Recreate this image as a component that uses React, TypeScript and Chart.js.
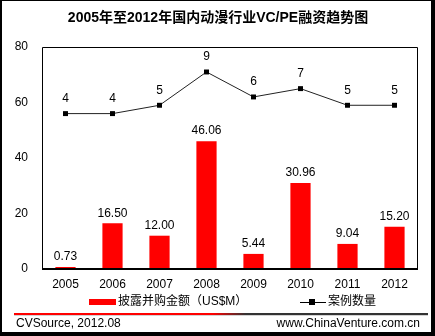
import React, { useEffect, useRef } from "react";
import { Chart, registerables } from "chart.js";

Chart.register(...registerables);

const years = ["2005", "2006", "2007", "2008", "2009", "2010", "2011", "2012"];
const amounts = [0.73, 16.5, 12.0, 46.06, 5.44, 30.96, 9.04, 15.2];
const amountLabels = ["0.73", "16.50", "12.00", "46.06", "5.44", "30.96", "9.04", "15.20"];
const dealCounts = [4, 4, 5, 9, 6, 7, 5, 5];
const yTicks = [0, 20, 40, 60, 80];

const titleText = "2005年至2012年国内动漫行业VC/PE融资趋势图";
const barLegend = "披露并购金额（US$M）";
const lineLegend = "案例数量";
const sourceLeft = "CVSource, 2012.08";
const sourceRight = "www.ChinaVenture.com.cn";

const FONT = "'Liberation Sans', Arial, 'Noto Sans CJK SC', sans-serif";
const CJK = "'Liberation Sans', 'Noto Sans CJK SC', sans-serif";

const decorPlugin = {
  id: "decor",
  afterDatasetsDraw(chart: any) {
    const ctx = chart.ctx;
    const { left, right, top, bottom } = chart.chartArea;
    ctx.save();
    // plot frame
    ctx.strokeStyle = "#000";
    ctx.lineWidth = 1;
    ctx.beginPath();
    ctx.moveTo(left + 0.5, bottom);
    ctx.lineTo(left + 0.5, top + 0.5);
    ctx.lineTo(right - 0.5, top + 0.5);
    ctx.lineTo(right - 0.5, bottom);
    ctx.stroke();
    ctx.lineWidth = 2;
    ctx.beginPath();
    ctx.moveTo(left, bottom);
    ctx.lineTo(right, bottom);
    ctx.stroke();

    // bar labels
    ctx.fillStyle = "#000";
    ctx.font = "12px " + FONT;
    ctx.textAlign = "center";
    ctx.textBaseline = "bottom";
    const barMeta = chart.getDatasetMeta(0);
    barMeta.data.forEach((el: any, i: number) => {
      ctx.fillText(amountLabels[i], el.x, el.y - 4);
    });
    const lineMeta = chart.getDatasetMeta(1);
    lineMeta.data.forEach((el: any, i: number) => {
      ctx.fillText(String(dealCounts[i]), el.x, el.y - 9);
    });

    // title
    ctx.font = "bold 14px " + CJK;
    ctx.textBaseline = "middle";
    ctx.fillText(titleText, 218, 18);

    // legend
    ctx.fillStyle = "#ff0000";
    ctx.fillRect(89, 299, 27, 6);
    ctx.fillStyle = "#000";
    ctx.textAlign = "left";
    ctx.font = "12px " + CJK;
    ctx.fillText(barLegend, 118, 302);
    ctx.strokeStyle = "#000";
    ctx.lineWidth = 1;
    ctx.beginPath();
    ctx.moveTo(300, 302.5);
    ctx.lineTo(326, 302.5);
    ctx.stroke();
    ctx.fillRect(309, 299, 6, 6);
    ctx.fillText(lineLegend, 328, 302);

    // footer rule
    const g = ctx.createLinearGradient(14, 0, 428, 0);
    g.addColorStop(0, "#ff0000");
    g.addColorStop(0.48, "#ff0000");
    g.addColorStop(0.56, "#333333");
    g.addColorStop(1, "#333333");
    ctx.fillStyle = g;
    ctx.fillRect(14, 313, 414, 2);
    ctx.fillStyle = "rgba(200,200,200,0.8)";
    ctx.fillRect(14, 315, 414, 1);

    ctx.fillStyle = "#000";
    ctx.font = "12px " + FONT;
    ctx.textAlign = "left";
    ctx.fillText(sourceLeft, 16, 324);
    ctx.textAlign = "right";
    ctx.fillText(sourceRight, 420, 324);

    // outer border
    ctx.fillStyle = "#000";
    ctx.fillRect(0, 0, 435, 1);
    ctx.fillRect(0, 0, 2, 336);
    ctx.fillRect(431, 0, 4, 336);
    ctx.fillRect(0, 332, 435, 4);
    ctx.restore();
  },
};

export default function App() {
  const ref = useRef<HTMLCanvasElement>(null);
  useEffect(() => {
    document.body.style.margin = "0";
    const chart = new Chart(ref.current!, {
      type: "bar",
      data: {
        labels: years,
        datasets: [
          {
            type: "bar",
            data: amounts,
            backgroundColor: "#ff0000",
            borderWidth: 0,
            barPercentage: 0.43,
            categoryPercentage: 1,
            yAxisID: "y",
            order: 2,
          },
          {
            type: "line",
            data: dealCounts,
            borderColor: "#222",
            borderWidth: 1,
            backgroundColor: "#000",
            pointStyle: "rect",
            pointRadius: 3.5,
            pointBorderWidth: 0,
            pointBackgroundColor: "#000",
            yAxisID: "y1",
            order: 1,
          } as any,
        ],
      },
      options: {
        responsive: false,
        animation: false,
        devicePixelRatio: 1,
        layout: { padding: { top: 47, right: 17, left: 0, bottom: 0 } },
        plugins: { legend: { display: false }, tooltip: { enabled: false }, title: { display: false } },
        scales: {
          x: {
            grid: { display: false, drawTicks: false },
            border: { display: false },
            ticks: { color: "#000", font: { family: FONT, size: 12 }, padding: 8, maxRotation: 0 },
            afterFit: (s: any) => { s.height = 67; },
          },
          y: {
            min: 0,
            max: 80,
            afterBuildTicks: (s: any) => { s.ticks = yTicks.map((v) => ({ value: v })); },
            grid: { display: false, drawTicks: false },
            border: { display: false },
            ticks: { color: "#000", font: { family: FONT, size: 12 }, padding: 14 },
            afterFit: (s: any) => { s.width = 42; },
          },
          y1: {
            display: false,
            min: -44 / 3,
            max: 12,
          },
        },
      },
      plugins: [decorPlugin],
    });
    return () => chart.destroy();
  }, []);
  return <canvas ref={ref} width={435} height={336} style={{ display: "block" }} />;
}
